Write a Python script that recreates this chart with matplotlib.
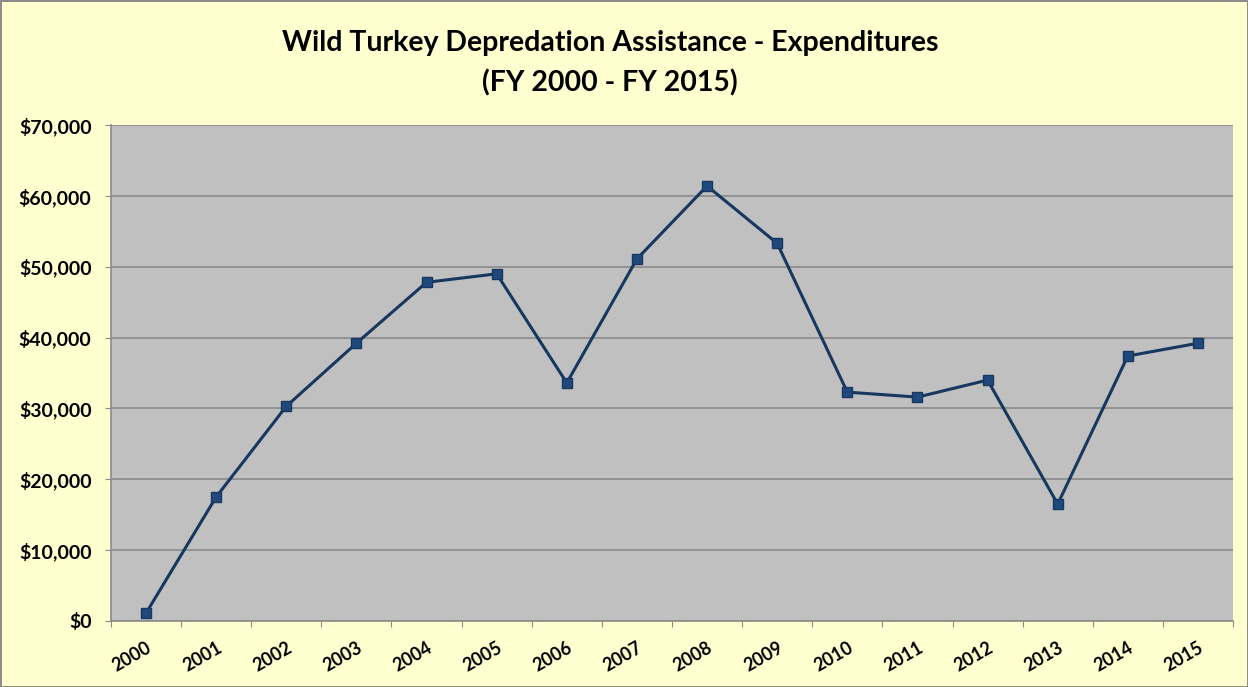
import matplotlib.pyplot as plt
from matplotlib.ticker import FuncFormatter

# Gastos anuales
years = ["2000", "2001", "2002", "2003", "2004", "2005", "2006", "2007",
         "2008", "2009", "2010", "2011", "2012", "2013", "2014", "2015"]
expenditures = [1100, 17500, 30300, 39200, 47800, 49000, 33600, 51100,
                61400, 53300, 32300, 31600, 34000, 16500, 37400, 39200]

plt.rcParams['font.family'] = ['Lato', 'DejaVu Sans']

fig = plt.figure(figsize=(12.48, 6.87), dpi=100)
fig.patch.set_facecolor("#FFFFD0")
fig.patch.set_edgecolor("#8C8C8C")
fig.patch.set_linewidth(2)

ax = fig.add_axes([0.0889, 0.0961, 0.8991, 0.7219])
ax.set_facecolor("#C0C0C0")

x = list(range(len(years)))
ax.plot(x, expenditures, color="#17375E", linewidth=2.2, marker="s",
        markersize=7, markerfacecolor="#1F497D", markeredgecolor="#17375E")

ax.set_xlim(-0.5, len(years) - 0.5)
ax.set_ylim(0, 70000)
ax.set_yticks(range(0, 70001, 10000))
ax.yaxis.set_major_formatter(FuncFormatter(lambda v, p: f"${v:,.0f}"))
ax.grid(axis="y", color="#8A8A8A", linewidth=1.2)
ax.set_axisbelow(True)

# marcas del eje x entre categorías, etiquetas en el centro
ax.set_xticks([i - 0.5 for i in range(len(years) + 1)])
ax.set_xticklabels([])
ax.set_xticks(x, minor=True)
ax.set_xticklabels(years, minor=True, rotation=30, fontsize=13,
                   fontweight="bold", ha="right", va="top",
                   rotation_mode="anchor")
ax.tick_params(axis="x", which="minor", length=0, pad=13)
ax.tick_params(axis="x", which="major", length=4, color="#8A8A8A")
ax.tick_params(axis="y", length=4, color="#8A8A8A", labelsize=14, pad=10)
for lbl in ax.get_yticklabels():
    lbl.set_fontweight("bold")

for side in ["top", "right"]:
    ax.spines[side].set_visible(False)
for side in ["left", "bottom"]:
    ax.spines[side].set_color("#8A8A8A")
    ax.spines[side].set_linewidth(1.2)

fig.text(0.489, 0.938, "Wild Turkey Depredation Assistance - Expenditures",
         ha="center", va="center", fontsize=20.5, fontweight="bold")
fig.text(0.489, 0.880, "(FY 2000 - FY 2015)",
         ha="center", va="center", fontsize=20.5, fontweight="bold")

plt.savefig("out.png", dpi=100, facecolor=fig.get_facecolor(),
            edgecolor=fig.get_edgecolor())
